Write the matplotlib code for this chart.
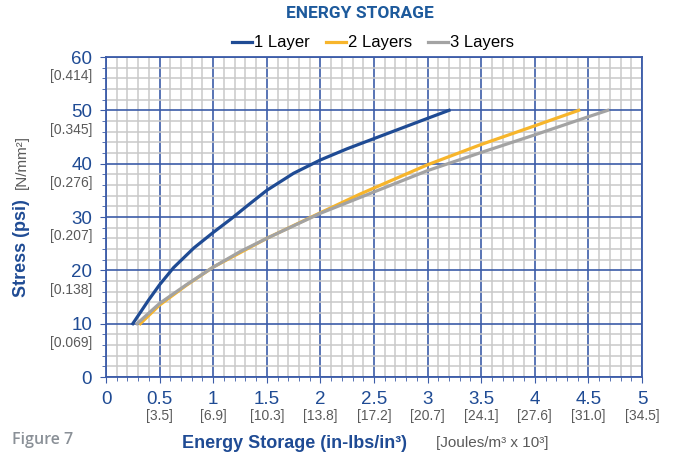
import numpy as np
import matplotlib.pyplot as plt
from matplotlib.ticker import MultipleLocator
import matplotlib.transforms as mtransforms

# data
one_x = [0.25, 0.40, 0.50, 0.63, 0.82, 1.0, 1.17, 1.33, 1.5, 1.75, 2.0, 2.25, 2.5, 3.0, 3.2]
one_y = [10, 14.5, 17.3, 20.5, 24.2, 27.1, 29.7, 32.3, 35.0, 38.2, 40.7, 42.8, 44.7, 48.5, 50]
two_x = [0.32, 0.5, 0.75, 1.0, 1.5, 2.0, 2.37, 3.0, 3.5, 4.0, 4.41]
two_y = [10, 13.5, 17.2, 20.6, 26.0, 30.8, 34.3, 39.8, 43.6, 47.1, 50]
three_x = [0.29, 0.5, 0.75, 1.0, 1.25, 1.5, 2.0, 2.5, 3.0, 3.5, 4.0, 4.5, 4.68]
three_y = [10, 13.8, 17.3, 20.6, 23.5, 26.0, 30.7, 34.7, 38.7, 42.1, 45.4, 48.8, 50]

x_ticks = [0, 0.5, 1, 1.5, 2, 2.5, 3, 3.5, 4, 4.5, 5]
x_tick_labels = ['0', '0.5', '1', '1.5', '2', '2.5', '3', '3.5', '4', '4.5', '5']
x_metric = ['', '[3.5]', '[6.9]', '[10.3]', '[13.8]', '[17.2]', '[20.7]',
            '[24.1]', '[27.6]', '[31.0]', '[34.5]']
y_ticks = [0, 10, 20, 30, 40, 50, 60]
y_metric = ['', '[0.069]', '[0.138]', '[0.207]', '[0.276]', '[0.345]', '[0.414]']

BLUE = '#1f4b94'
AXBLUE = '#3c5ca8'
ORANGE = '#f7b52b'
GRAY = '#a3a3a3'
TXTGRAY = '#5a5a5a'

plt.rcParams['font.family'] = ['Liberation Sans', 'DejaVu Sans']

fig = plt.figure(figsize=(6.78, 4.57), dpi=100)
ax = fig.add_axes([106 / 678, 1 - 377 / 457, 536 / 678, 320 / 457])

ax.plot(one_x, one_y, color=BLUE, lw=2.3, label='1 Layer')
ax.plot(two_x, two_y, color=ORANGE, lw=2.3, label='2 Layers')
ax.plot(three_x, three_y, color=GRAY, lw=2.3, label='3 Layers')

ax.set_xlim(0, 5)
ax.set_ylim(0, 60)
ax.xaxis.set_major_locator(MultipleLocator(0.5))
ax.xaxis.set_minor_locator(MultipleLocator(0.1))
ax.yaxis.set_major_locator(MultipleLocator(10))
ax.yaxis.set_minor_locator(MultipleLocator(2))
ax.grid(which='minor', color='#c9c9c9', lw=1.1, zorder=0)
ax.grid(which='major', color=AXBLUE, lw=1.2, zorder=1)
ax.set_axisbelow(True)
for s in ax.spines.values():
    s.set_color(AXBLUE)
    s.set_linewidth(1.3)

ax.set_xticks(x_ticks)
ax.set_xticklabels(x_tick_labels)
ax.set_yticks(y_ticks)
ax.tick_params(which='both', colors=AXBLUE, labelcolor=BLUE, labelsize=13.5)
ax.tick_params(which='major', length=4, pad=6)
ax.tick_params(which='minor', length=3)
for lab in ax.get_yticklabels():
    lab.set_verticalalignment('center_baseline')

# metric equivalents under the tick labels
tx = mtransforms.blended_transform_factory(ax.transData, ax.transAxes)
for x, lab in zip(x_ticks, x_metric):
    ax.text(x, -0.1, lab, transform=tx, ha='center', va='top',
            fontsize=10, color=TXTGRAY)
ty = mtransforms.blended_transform_factory(ax.transAxes, ax.transData)
for y, lab in zip(y_ticks, y_metric):
    ax.text(-0.025, y - 2.3, lab, transform=ty, ha='right', va='top',
            fontsize=10, color=TXTGRAY)

# axis titles
fig.text(22 / 678, 1 - 248 / 457, 'Stress (psi)', rotation=90, ha='center',
         va='center', fontsize=13, fontweight='bold', color=BLUE)
fig.text(22 / 678, 1 - 162 / 457, '[N/mm²]', rotation=90, ha='center',
         va='center', fontsize=11, color=TXTGRAY)
fig.text(294 / 678, 1 - 444 / 457, 'Energy Storage (in-lbs/in³)',
         ha='center', va='center', fontsize=13, fontweight='bold', color=BLUE)
fig.text(492 / 678, 1 - 443 / 457, '[Joules/m³ x 10³]', ha='center',
         va='center', fontsize=11, color=TXTGRAY)
fig.text(12 / 678, 1 - 440 / 457, 'Figure 7', ha='left', va='center',
         fontsize=11.5, fontweight='semibold', color='#8a9097',
         family=['Open Sans', 'DejaVu Sans'])

fig.text(360 / 678, 1 - 14 / 457, 'ENERGY STORAGE', ha='center', va='center',
         fontsize=12.5, fontweight='bold', color='#1d5a9c',
         family=['Roboto', 'DejaVu Sans'])
fig.legend(loc='center', bbox_to_anchor=(373 / 678, 1 - 43 / 457), ncol=3,
           frameon=False, fontsize=12, handlelength=1.2, handletextpad=0.1,
           columnspacing=1.0)

fig.savefig('out.png', dpi=100)
